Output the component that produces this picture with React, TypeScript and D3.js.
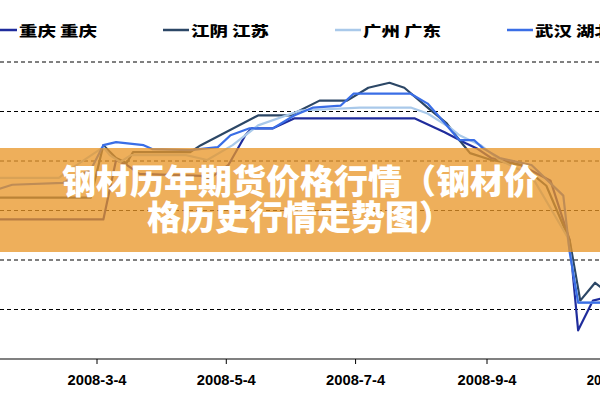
import React from 'react';
import * as d3 from 'd3';

// weekly-ish steel price series (yuan/ton)
const chongqing: [string, number][] = [
  ['2008-01-18', 4910], ['2008-03-07', 4910], ['2008-03-13', 5510], ['2008-03-18', 5460],
  ['2008-03-24', 5370], ['2008-04-22', 5350], ['2008-04-26', 5320], ['2008-05-05', 5460],
  ['2008-05-13', 5760], ['2008-05-16', 5830], ['2008-05-26', 5830], ['2008-06-05', 5930],
  ['2008-08-01', 5930], ['2008-08-15', 5790], ['2008-08-25', 5680], ['2008-08-30', 5630],
  ['2008-09-06', 5530], ['2008-09-20', 5460], ['2008-10-04', 5300], ['2008-10-13', 4700],
  ['2008-10-17', 3790], ['2008-10-24', 4090], ['2008-10-28', 4110],
];

const jiangyin: [string, number][] = [
  ['2008-01-18', 5130], ['2008-03-01', 5130], ['2008-03-07', 5660], ['2008-03-13', 5530],
  ['2008-03-18', 5480], ['2008-03-21', 5590], ['2008-04-17', 5590], ['2008-04-22', 5660],
  ['2008-05-19', 5960], ['2008-06-03', 5960], ['2008-06-17', 6110], ['2008-06-30', 6110],
  ['2008-07-10', 6240], ['2008-07-20', 6290], ['2008-07-27', 6240], ['2008-08-07', 6040],
  ['2008-08-16', 5880], ['2008-08-22', 5710], ['2008-08-27', 5580], ['2008-09-06', 5510],
  ['2008-09-20', 5460], ['2008-10-02', 5250], ['2008-10-13', 4700], ['2008-10-18', 4090],
  ['2008-10-25', 4270], ['2008-10-28', 4220],
];

const guangzhou: [string, number][] = [
  ['2008-01-18', 5330], ['2008-02-15', 5330], ['2008-02-20', 5410], ['2008-03-07', 5640],
  ['2008-03-10', 5560], ['2008-03-15', 5490], ['2008-03-20', 5560], ['2008-04-15', 5560],
  ['2008-04-25', 5510], ['2008-05-07', 5660], ['2008-05-19', 5860], ['2008-06-08', 6010],
  ['2008-07-06', 6040], ['2008-07-30', 6040], ['2008-08-07', 5980], ['2008-08-18', 5830],
  ['2008-08-22', 5760], ['2008-09-01', 5660], ['2008-09-10', 5510], ['2008-09-25', 5350],
  ['2008-10-12', 4730], ['2008-10-17', 4070], ['2008-10-28', 4070],
];

const wuhan: [string, number][] = [
  ['2008-01-18', 5220], ['2008-01-24', 5260], ['2008-02-17', 5280], ['2008-03-01', 5410],
  ['2008-03-07', 5660], ['2008-03-13', 5690], ['2008-03-26', 5660], ['2008-03-30', 5620],
  ['2008-04-17', 5610], ['2008-04-30', 5640], ['2008-05-06', 5760], ['2008-05-15', 5830],
  ['2008-05-26', 5830], ['2008-06-05', 5960], ['2008-06-14', 6040], ['2008-06-27', 6060],
  ['2008-07-03', 6180], ['2008-07-30', 6180], ['2008-08-07', 6080], ['2008-08-14', 5910],
  ['2008-08-22', 5710], ['2008-08-29', 5710], ['2008-09-02', 5630], ['2008-09-10', 5530],
  ['2008-09-25', 5460], ['2008-10-10', 5150], ['2008-10-13', 4580], ['2008-10-17', 4070],
  ['2008-10-28', 4070],
];

const seriesNames = ['重庆 重庆', '江阴 江苏', '广州 广东', '武汉 湖北'];
const seriesData = [chongqing, jiangyin, guangzhou, wuhan];
const seriesColors = ['#1f2c9c', '#2c4766', '#a9c9ea', '#3a6ee6'];

const gridValues = [4000, 4500, 5000, 5500, 6000, 6500];
const tickDates = ['2008-03-04', '2008-05-04', '2008-07-04', '2008-09-04', '2008-11-04'];
const tickLabels = ['2008-3-4', '2008-5-4', '2008-7-4', '2008-9-4', '2008-11-4'];

const bannerLines = ['钢材历年期货价格行情（钢材价', '格历史行情走势图）'];

const W = 600;
const H = 400;
const parse = d3.timeParse('%Y-%m-%d');

export default function App() {
  const x = d3.scaleTime()
    .domain([parse('2008-03-04')!, parse('2008-09-04')!])
    .range([97, 487]);
  const y = d3.scaleLinear().domain([3500, 6500]).range([359, 62]);

  const line = d3.line<[string, number]>()
    .x(d => x(parse(d[0])!))
    .y(d => y(d[1]));

  const legendX = [-9, 163, 335, 507];
  const axisY = y(3500);

  return (
    <svg width={W} height={H} style={{ position: 'absolute', left: 0, top: 0, background: '#fff' }}>
      <defs>
        <clipPath id="plot">
          <rect x={0} y={0} width={W} height={axisY} />
        </clipPath>
      </defs>
      <rect width={W} height={H} fill="#fff" />

      {/* legend */}
      {seriesNames.map((name, i) => (
        <g key={name}>
          <line x1={legendX[i]} x2={legendX[i] + 26} y1={30} y2={30}
            stroke={seriesColors[i]} strokeWidth={2.5} />
          <text x={legendX[i] + 28} y={36} fontFamily="'Noto Sans CJK SC', sans-serif"
            fontWeight={900} fontSize={14} fill="#000"
            textLength={78} lengthAdjust="spacingAndGlyphs">{name}</text>
        </g>
      ))}

      {/* grid */}
      {gridValues.map(v => (
        <line key={v} x1={0} x2={W} y1={y(v)} y2={y(v)}
          stroke="#000" strokeWidth={1} strokeDasharray="4,3" />
      ))}

      {/* series */}
      <g clipPath="url(#plot)">
        {seriesData.map((s, i) => (
          <path key={i} d={line(s) || ''} fill="none" stroke={seriesColors[i]}
            strokeWidth={2.2} strokeLinejoin="round" />
        ))}
      </g>

      {/* x axis */}
      <line x1={0} x2={W} y1={axisY} y2={axisY} stroke="#808080" strokeWidth={2} />
      {tickDates.map((t, i) => {
        const tx = x(parse(t)!);
        return (
          <g key={t}>
            <line x1={tx} x2={tx} y1={axisY} y2={axisY + 5} stroke="#000" strokeWidth={1} />
            <text x={tx} y={385} textAnchor="middle" fontFamily="'Liberation Sans', Arial, sans-serif"
              fontWeight={700} fontSize={15} fill="#000"
              textLength={59} lengthAdjust="spacingAndGlyphs">{tickLabels[i]}</text>
          </g>
        );
      })}

      {/* overlay banner */}
      <rect x={0} y={148} width={W} height={104} fill="rgb(232,150,40)" fillOpacity={0.76} />
      {bannerLines.map((t, i) => (
        <text key={t} x={W / 2} y={194 + i * 36} textAnchor="middle"
          fontFamily="'Noto Sans CJK SC', sans-serif" fontWeight={900} fontSize={34}
          fill="#fff">{t}</text>
      ))}
    </svg>
  );
}
